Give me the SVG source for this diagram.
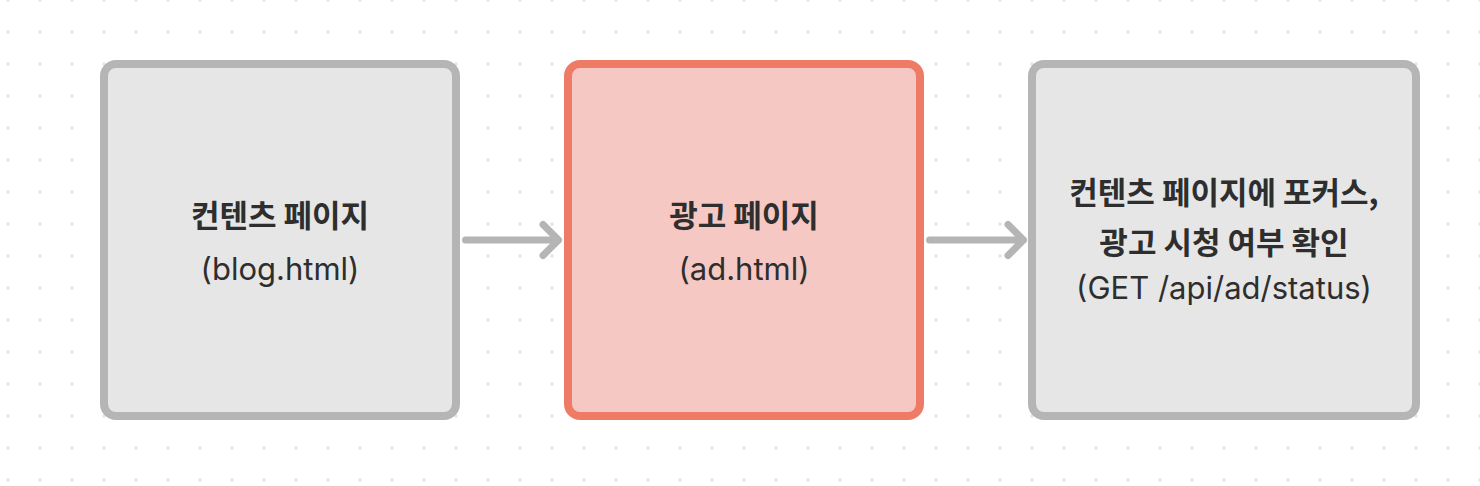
<svg xmlns="http://www.w3.org/2000/svg" width="1480" height="486" viewBox="0 0 1480 486">
<defs>
<pattern id="dots" x="-8" y="-16" width="32" height="32" patternUnits="userSpaceOnUse">
<circle cx="16" cy="16" r="1.7" fill="#e2e2e2"/>
</pattern>
</defs>
<style>
.box{fill:#e6e6e6;stroke:#b5b5b5;stroke-width:8}
.hl{fill:#f6c8c4;stroke:#ee7b66;stroke-width:8}
.t{font-family:Inter,"Noto Sans CJK KR",sans-serif;font-size:31px;fill:#2e2e2e;text-anchor:middle}
.b{font-family:"Noto Sans CJK KR",Inter,sans-serif;font-weight:700}
.edge{fill:none;stroke:#b5b5b5;stroke-width:7;stroke-linecap:round;stroke-linejoin:round}
</style>
<rect width="1480" height="486" fill="#ffffff"/>
<rect width="1480" height="486" fill="url(#dots)"/>
<g id="node-blog">
<rect class="box" x="104" y="64" width="352" height="352" rx="12"/>
<text class="t b" x="280" y="227">컨텐츠 페이지</text>
<text class="t" x="280" y="280">(blog.html)</text>
</g>
<g id="node-ad">
<rect class="hl" x="568" y="64" width="352" height="352" rx="12"/>
<text class="t b" x="744" y="227">광고 페이지</text>
<text class="t" x="744" y="280">(ad.html)</text>
</g>
<g id="node-status">
<rect class="box" x="1032" y="64" width="384" height="352" rx="12"/>
<text class="t b" x="1224" y="204">컨텐츠 페이지에 포커스,</text>
<text class="t b" x="1224" y="253.5">광고 시청 여부 확인</text>
<text class="t" x="1224" y="299">(GET /api/ad/status)</text>
</g>
<g id="connectors">
<path class="edge" d="M465.5 240H558.5M543 224.5L558.5 240L543 255.5"/>
<path class="edge" d="M929.5 240H1023.5M1008 224.5L1023.5 240L1008 255.5"/>
</g>
</svg>
